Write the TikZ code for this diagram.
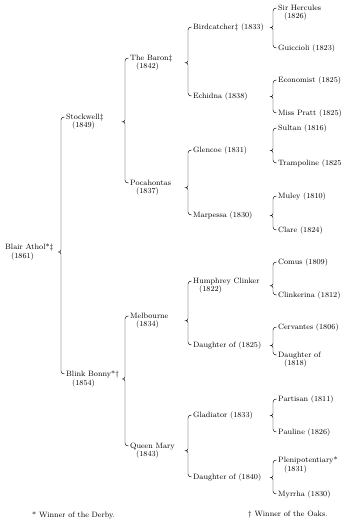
\documentclass[tikz,border=0pt]{standalone}
\usepackage{tikz}

\newcommand{\foal}[1]{\\\hspace*{6pt}(#1)}

\begin{document}
\begin{tikzpicture}[
  x=1pt, y=-1pt,
  horse/.style={anchor=north west, yshift=3.5pt, inner sep=0pt, align=left,
                font=\fontsize{7.7}{8.8}\selectfont},
  brace/.style={line width=0.45pt},
  note/.style={anchor=west, inner sep=0pt, font=\fontsize{7.7}{8.8}\selectfont}
]
\useasboundingbox (0,0) rectangle (342,524);

% sire and dam
\node[horse] (blair) at (5,247)   {Blair Athol*\textdaggerdbl\foal{1861}};
\node[horse] (stock) at (66,117)  {Stockwell\textdaggerdbl\foal{1849}};
\node[horse] (blink) at (66,374)  {Blink Bonny*\textdagger\foal{1854}};

% grandparents
\node[horse] (baron) at (130,58)  {The Baron\textdaggerdbl\foal{1842}};
\node[horse] (poca)  at (130,183) {Pocahontas\foal{1837}};
\node[horse] (melb)  at (130,316) {Melbourne\foal{1834}};
\node[horse] (queen) at (130,446) {Queen Mary\foal{1843}};

% great-grandparents
\node[horse] (bird)  at (193,27)  {Birdcatcher\textdaggerdbl\ (1833)};
\node[horse] (echid) at (193,96)  {Echidna (1838)};
\node[horse] (glen)  at (193,150) {Glencoe (1831)};
\node[horse] (marp)  at (193,215) {Marpessa (1830)};
\node[horse] (humph) at (193,281) {Humphrey Clinker\foal{1822}};
\node[horse] (dau25) at (193,345) {Daughter of (1825)};
\node[horse] (glad)  at (193,415) {Gladiator (1833)};
\node[horse] (dau40) at (193,477) {Daughter of (1840)};

% last generation
\node[horse] (sirh)  at (278,8)   {Sir Hercules\foal{1826}};
\node[horse] (guic)  at (278,48)  {Guiccioli (1823)};
\node[horse] (econ)  at (278,80)  {Economist (1825)};
\node[horse] (pratt) at (278,113) {Miss Pratt (1825)};
\node[horse] (sult)  at (278,128) {Sultan (1816)};
\node[horse] (tramp) at (278,163) {Trampoline (1825};
\node[horse] (muley) at (278,196) {Muley (1810)};
\node[horse] (clare) at (278,230) {Clare (1824)};
\node[horse] (comus) at (278,262) {Comus (1809)};
\node[horse] (clink) at (278,295) {Clinkerina (1812)};
\node[horse] (cerv)  at (278,327) {Cervantes (1806)};
\node[horse] (dau18) at (278,355) {Daughter of\foal{1818}};
\node[horse] (part)  at (278,399) {Partisan (1811)};
\node[horse] (paul)  at (278,432) {Pauline (1826)};
\node[horse] (pleni) at (278,460) {Plenipotentiary*\foal{1831}};
\node[horse] (myrr)  at (278,494) {Myrrha (1830)};

% braces: parent / upper / lower
\foreach \p/\u/\l in {blair/stock/blink,
    stock/baron/poca, blink/melb/queen,
    baron/bird/echid, poca/glen/marp, melb/humph/dau25, queen/glad/dau40,
    bird/sirh/guic, echid/econ/pratt, glen/sult/tramp, marp/muley/clare,
    humph/comus/clink, dau25/cerv/dau18, glad/part/paul, dau40/pleni/myrr}{
  \coordinate (t) at ([shift={(-1.5,3.5)}]\u.north west);
  \coordinate (b) at ([shift={(-1.5,3.5)}]\l.north west);
  \coordinate (v) at ([shift={(-3.5,0)}]t);
  \coordinate (c) at (v |- \p.east);
  \draw[brace] (t) .. controls +(-2,0) and +(0,-2) .. ([shift={(-3.5,3)}]t)
    -- ([shift={(0,-2)}]c) .. controls +(0,1.5) and +(1,0) .. ([shift={(-2.5,0)}]c)
    .. controls +(1,0) and +(0,-1.5) .. ([shift={(0,2)}]c)
    -- ([shift={(-3.5,-3)}]b) .. controls +(0,2) and +(-2,0) .. (b);
}

% footnotes
\node[note] (derby) at (32,515)  {* Winner of the Derby.};
\node[note] (oaks)  at (248,515) {\textdagger\ Winner of the Oaks.};
\end{tikzpicture}
\end{document}
